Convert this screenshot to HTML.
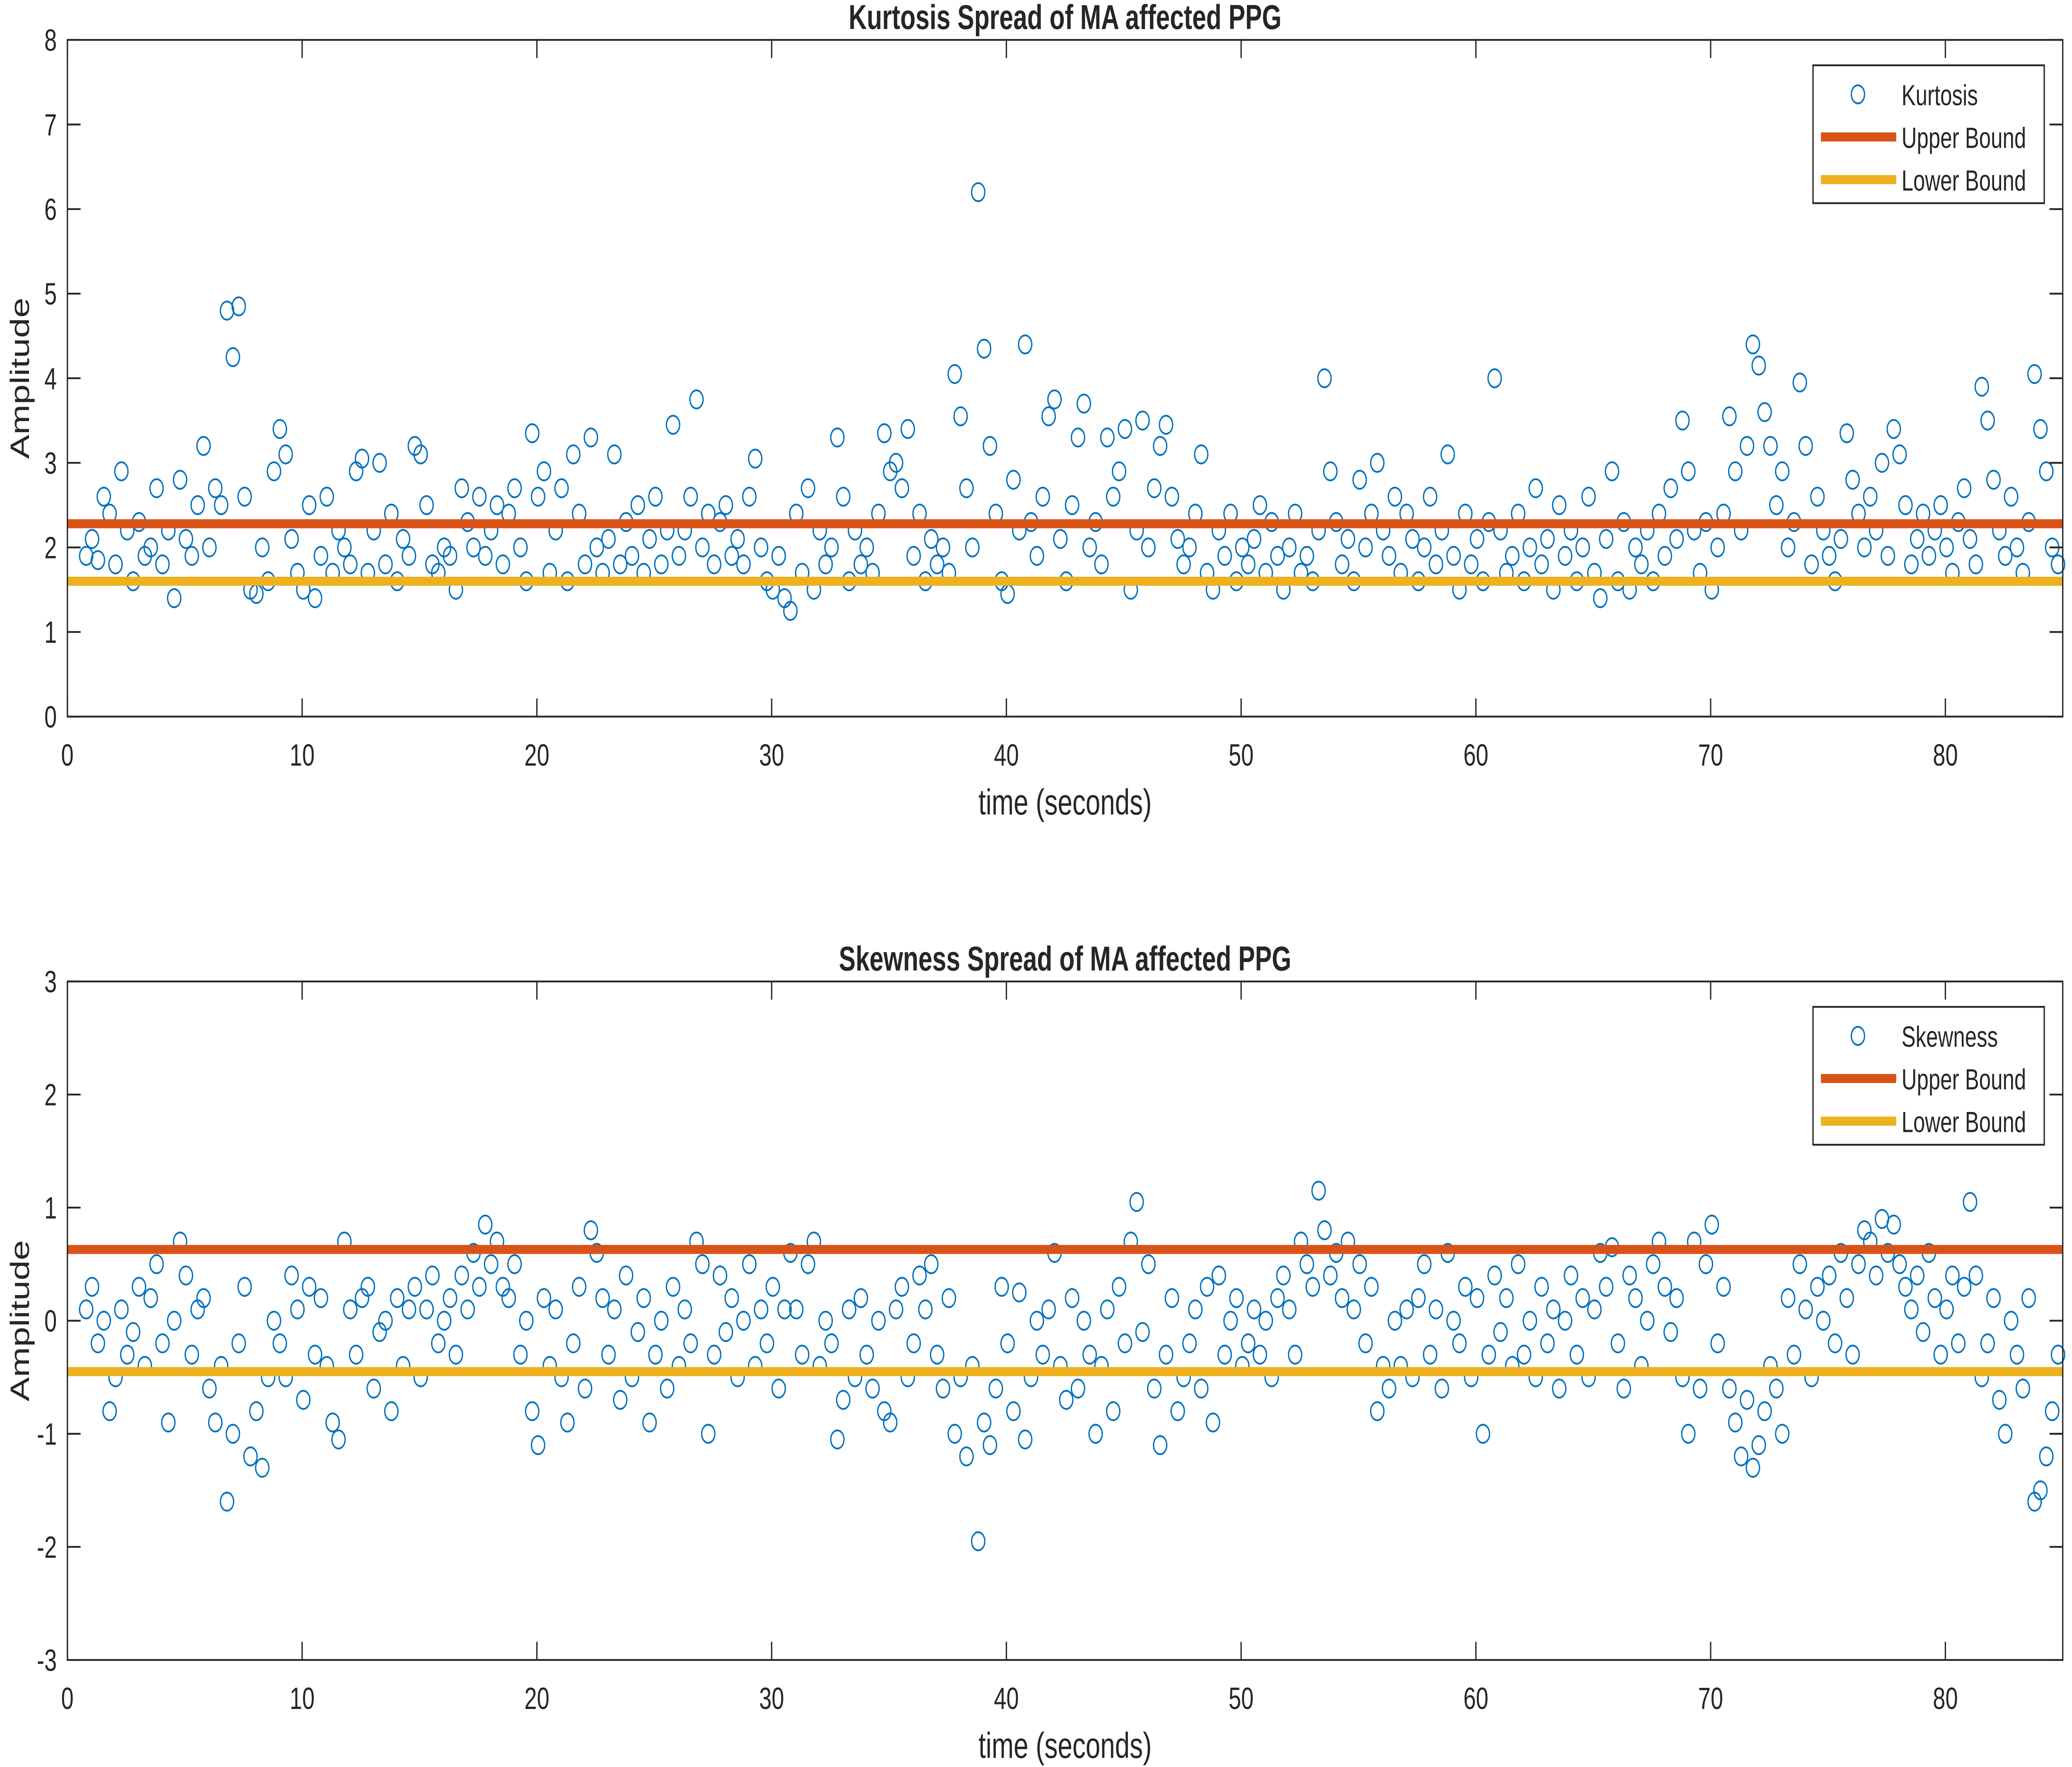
<!DOCTYPE html>
<html><head><meta charset="utf-8"><style>
html,body{margin:0;padding:0;background:#fff;width:100%;height:100%;overflow:hidden;}
svg{display:block;position:fixed;left:0;top:0;width:100vw;height:100vh;}
text{font-family:"Liberation Sans",Arial,sans-serif;fill:#262626;}
</style></head><body>
<svg id="fig" viewBox="0 0 1568 974" preserveAspectRatio="none" xmlns="http://www.w3.org/2000/svg">
<rect width="1568" height="974" fill="#fff"/>
</svg>
<script>
const tStart = 0.8;
const tStep = 0.25;
const xTicks = [0,10,20,30,40,50,60,70,80];
const kurtTicks = [0,1,2,3,4,5,6,7,8];
const skewTicks = [-3,-2,-1,0,1,2,3];
const kurtUpper = 2.28;
const kurtLower = 1.6;
const skewUpper = 0.63;
const skewLower = -0.45;
const kurtosis = [
1.9,2.1,1.85,2.6, 2.4,1.8,2.9,2.2, 1.6,2.3,1.9,2.0, 2.7,1.8,2.2,1.4, 2.8,2.1,1.9,2.5,
3.2,2.0,2.7,2.5, 4.8,4.25,4.85,2.6, 1.5,1.45,2.0,1.6, 2.9,3.4,3.1,2.1, 1.7,1.5,2.5,1.4,
1.9,2.6,1.7,2.2, 2.0,1.8,2.9,3.05, 1.7,2.2,3.0,1.8, 2.4,1.6,2.1,1.9, 3.2,3.1,2.5,1.8,
1.7,2.0,1.9,1.5, 2.7,2.3,2.0,2.6, 1.9,2.2,2.5,1.8, 2.4,2.7,2.0,1.6, 3.35,2.6,2.9,1.7,
2.2,2.7,1.6,3.1, 2.4,1.8,3.3,2.0, 1.7,2.1,3.1,1.8, 2.3,1.9,2.5,1.7, 2.1,2.6,1.8,2.2,
3.45,1.9,2.2,2.6, 3.75,2.0,2.4,1.8, 2.3,2.5,1.9,2.1, 1.8,2.6,3.05,2.0, 1.6,1.5,1.9,1.4,
1.25,2.4,1.7,2.7, 1.5,2.2,1.8,2.0, 3.3,2.6,1.6,2.2, 1.8,2.0,1.7,2.4, 3.35,2.9,3.0,2.7,
3.4,1.9,2.4,1.6, 2.1,1.8,2.0,1.7, 4.05,3.55,2.7,2.0, 6.2,4.35,3.2,2.4, 1.6,1.45,2.8,2.2,
4.4,2.3,1.9,2.6, 3.55,3.75,2.1,1.6, 2.5,3.3,3.7,2.0, 2.3,1.8,3.3,2.6, 2.9,3.4,1.5,2.2,
3.5,2.0,2.7,3.2, 3.45,2.6,2.1,1.8, 2.0,2.4,3.1,1.7, 1.5,2.2,1.9,2.4, 1.6,2.0,1.8,2.1,
2.5,1.7,2.3,1.9, 1.5,2.0,2.4,1.7, 1.9,1.6,2.2,4.0, 2.9,2.3,1.8,2.1, 1.6,2.8,2.0,2.4,
3.0,2.2,1.9,2.6, 1.7,2.4,2.1,1.6, 2.0,2.6,1.8,2.2, 3.1,1.9,1.5,2.4, 1.8,2.1,1.6,2.3,
4.0,2.2,1.7,1.9, 2.4,1.6,2.0,2.7, 1.8,2.1,1.5,2.5, 1.9,2.2,1.6,2.0, 2.6,1.7,1.4,2.1,
2.9,1.6,2.3,1.5, 2.0,1.8,2.2,1.6, 2.4,1.9,2.7,2.1, 3.5,2.9,2.2,1.7, 2.3,1.5,2.0,2.4,
3.55,2.9,2.2,3.2, 4.4,4.15,3.6,3.2, 2.5,2.9,2.0,2.3, 3.95,3.2,1.8,2.6, 2.2,1.9,1.6,2.1,
3.35,2.8,2.4,2.0, 2.6,2.2,3.0,1.9, 3.4,3.1,2.5,1.8, 2.1,2.4,1.9,2.2, 2.5,2.0,1.7,2.3,
2.7,2.1,1.8,3.9, 3.5,2.8,2.2,1.9, 2.6,2.0,1.7,2.3, 4.05,3.4,2.9,2.0, 1.8];
const skewness = [
0.1,0.3,-0.2,0.0, -0.8,-0.5,0.1,-0.3, -0.1,0.3,-0.4,0.2, 0.5,-0.2,-0.9,0.0, 0.7,0.4,-0.3,0.1,
0.2,-0.6,-0.9,-0.4, -1.6,-1.0,-0.2,0.3, -1.2,-0.8,-1.3,-0.5, 0.0,-0.2,-0.5,0.4, 0.1,-0.7,0.3,-0.3,
0.2,-0.4,-0.9,-1.05, 0.7,0.1,-0.3,0.2, 0.3,-0.6,-0.1,0.0, -0.8,0.2,-0.4,0.1, 0.3,-0.5,0.1,0.4,
-0.2,0.0,0.2,-0.3, 0.4,0.1,0.6,0.3, 0.85,0.5,0.7,0.3, 0.2,0.5,-0.3,0.0, -0.8,-1.1,0.2,-0.4,
0.1,-0.5,-0.9,-0.2, 0.3,-0.6,0.8,0.6, 0.2,-0.3,0.1,-0.7, 0.4,-0.5,-0.1,0.2, -0.9,-0.3,0.0,-0.6,
0.3,-0.4,0.1,-0.2, 0.7,0.5,-1.0,-0.3, 0.4,-0.1,0.2,-0.5, 0.0,0.5,-0.4,0.1, -0.2,0.3,-0.6,0.1,
0.6,0.1,-0.3,0.5, 0.7,-0.4,0.0,-0.2, -1.05,-0.7,0.1,-0.5, 0.2,-0.3,-0.6,0.0, -0.8,-0.9,0.1,0.3,
-0.5,-0.2,0.4,0.1, 0.5,-0.3,-0.6,0.2, -1.0,-0.5,-1.2,-0.4, -1.95,-0.9,-1.1,-0.6, 0.3,-0.2,-0.8,0.25,
-1.05,-0.5,0.0,-0.3, 0.1,0.6,-0.4,-0.7, 0.2,-0.6,0.0,-0.3, -1.0,-0.4,0.1,-0.8, 0.3,-0.2,0.7,1.05,
-0.1,0.5,-0.6,-1.1, -0.3,0.2,-0.8,-0.5, -0.2,0.1,-0.6,0.3, -0.9,0.4,-0.3,0.0, 0.2,-0.4,-0.2,0.1,
-0.3,0.0,-0.5,0.2, 0.4,0.1,-0.3,0.7, 0.5,0.3,1.15,0.8, 0.4,0.6,0.2,0.7, 0.1,0.5,-0.2,0.3,
-0.8,-0.4,-0.6,0.0, -0.4,0.1,-0.5,0.2, 0.5,-0.3,0.1,-0.6, 0.6,0.0,-0.2,0.3, -0.5,0.2,-1.0,-0.3,
0.4,-0.1,0.2,-0.4, 0.5,-0.3,0.0,-0.5, 0.3,-0.2,0.1,-0.6, 0.0,0.4,-0.3,0.2, -0.5,0.1,0.6,0.3,
0.65,-0.2,-0.6,0.4, 0.2,-0.4,0.0,0.5, 0.7,0.3,-0.1,0.2, -0.5,-1.0,0.7,-0.6, 0.5,0.85,-0.2,0.3,
-0.6,-0.9,-1.2,-0.7, -1.3,-1.1,-0.8,-0.4, -0.6,-1.0,0.2,-0.3, 0.5,0.1,-0.5,0.3, 0.0,0.4,-0.2,0.6,
0.2,-0.3,0.5,0.8, 0.7,0.4,0.9,0.6, 0.85,0.5,0.3,0.1, 0.4,-0.1,0.6,0.2, -0.3,0.1,0.4,-0.2,
0.3,1.05,0.4,-0.5, -0.2,0.2,-0.7,-1.0, 0.0,-0.3,-0.6,0.2, -1.6,-1.5,-1.2,-0.8, -0.3];

const NS = "http://www.w3.org/2000/svg";
const svg = document.getElementById('fig');
function mk(tag, attrs, parent) {
  const e = document.createElementNS(NS, tag);
  for (const k in attrs) e.setAttribute(k, attrs[k]);
  (parent || svg).appendChild(e);
  return e;
}

function drawChart(cfg) {
  const L = 51, R = 1561, T = cfg.top, B = cfg.bottom;
  const xMin = 0, xMax = 85;
  const xs = v => L + (v - xMin) / (xMax - xMin) * (R - L);
  const ys = v => B - (v - cfg.yMin) / (cfg.yMax - cfg.yMin) * (B - T);
  const g = mk('g', {});
  
  
  const bg = mk('rect', {x: L, y: T, width: R - L, height: B - T, fill: '#fff'}, g);
  
  
  const pts = mk('g', {}, g);
  
  
  cfg.values.forEach((v, i) => {
    const t = tStart + i * tStep;
    const c = mk('circle', {cx: xs(t), cy: ys(v), r: 5, fill: 'none', stroke: '#0072BD', 'stroke-width': 1}, pts);
    
    
  });
  const up = mk('line', {x1: L, x2: R, y1: ys(cfg.upper), y2: ys(cfg.upper), stroke: '#D95319', 'stroke-width': 5}, g);
  
  
  const lo = mk('line', {x1: L, x2: R, y1: ys(cfg.lower), y2: ys(cfg.lower), stroke: '#EDB120', 'stroke-width': 5}, g);
  
  
  const box = mk('rect', {x: L, y: T, width: R - L, height: B - T, fill: 'none', stroke: '#262626', 'stroke-width': 1}, g);
  
  
  xTicks.forEach(v => {
    const x = xs(v);
    mk('line', {x1: x, x2: x, y1: B, y2: B - 10, stroke: '#262626', 'stroke-width': 1}, g);
    mk('line', {x1: x, x2: x, y1: T, y2: T + 10, stroke: '#262626', 'stroke-width': 1}, g);
    const tx = mk('text', {x: x, y: B + 27, 'font-size': 17, 'text-anchor': 'middle'}, g);
    tx.textContent = v;
    
    
  });
  cfg.ticks.forEach(v => {
    const y = ys(v);
    mk('line', {x1: L, x2: L + 10, y1: y, y2: y, stroke: '#262626', 'stroke-width': 1}, g);
    mk('line', {x1: R, x2: R - 10, y1: y, y2: y, stroke: '#262626', 'stroke-width': 1}, g);
    const ty = mk('text', {x: L - 8, y: y + 6, 'font-size': 17, 'text-anchor': 'end'}, g);
    ty.textContent = v;
    
    
  });
  const title = mk('text', {x: (L + R) / 2, y: T - 6, 'font-size': 19, 'font-weight': 'bold', 'text-anchor': 'middle', fill: '#000'}, g);
  title.textContent = cfg.title;
  
  
  const xl = mk('text', {x: (L + R) / 2, y: B + 54, 'font-size': 20, 'text-anchor': 'middle'}, g);
  xl.textContent = 'time (seconds)';
  
  
  const yc = (T + B) / 2;
  const yl = mk('text', {x: 22, y: yc, 'font-size': 20, 'text-anchor': 'middle', transform: 'rotate(-90 22 ' + yc + ')'}, g);
  yl.textContent = 'Amplitude';
  
  
  const lg = mk('g', {}, g);
  
  
  const lt = cfg.legendTop;
  mk('rect', {x: 1372, y: lt, width: 175, height: 76, fill: '#fff', stroke: '#262626', 'stroke-width': 1}, lg);
  const entries = [[cfg.seriesName, 'circle'], ['Upper Bound', '#D95319'], ['Lower Bound', '#EDB120']];
  entries.forEach((e, i) => {
    const y = lt + 16 + i * 23.5;
    const eg = mk('g', {}, lg);
    
    
    if (e[1] === 'circle') mk('circle', {cx: 1406, cy: y, r: 5, fill: 'none', stroke: '#0072BD', 'stroke-width': 1}, eg);
    else mk('line', {x1: 1378, x2: 1435, y1: y, y2: y, stroke: e[1], 'stroke-width': 5}, eg);
    const tx = mk('text', {x: 1439, y: y + 6, 'font-size': 16}, eg);
    tx.textContent = e[0];
  });
}

drawChart({name: 'kurtosis-chart', title: 'Kurtosis Spread of MA affected PPG', seriesName: 'Kurtosis', top: 22, bottom: 395, yMin: 0, yMax: 8, ticks: kurtTicks, values: kurtosis, upper: kurtUpper, lower: kurtLower, legendTop: 36});
drawChart({name: 'skewness-chart', title: 'Skewness Spread of MA affected PPG', seriesName: 'Skewness', top: 541, bottom: 915, yMin: -3, yMax: 3, ticks: skewTicks, values: skewness, upper: skewUpper, lower: skewLower, legendTop: 555});
</script>
</body></html>
